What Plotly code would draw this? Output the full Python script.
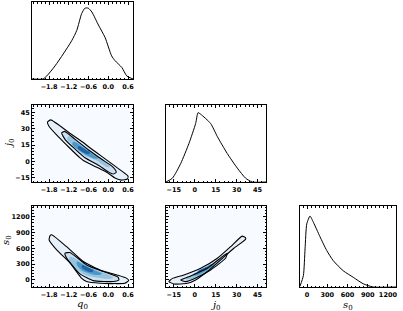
import plotly.graph_objects as go

# ---------------- data ----------------
q_range = [-2.32, 0.75]
j_range_x = [-20.5, 51.0]
j_range_y = [-18.75, 51.6]
s_range_x = [-105, 1320]
s_range_y = [-133, 1400]

q_ticks = [-1.8, -1.2, -0.6, 0.0, 0.6]
q_ticklabels = ["\u22121.8", "\u22121.2", "\u22120.6", "0.0", "0.6"]
j_ticks = [-15, 0, 15, 30, 45]
j_ticklabels = ["\u221215", "0", "15", "30", "45"]
s_ticks = [0, 300, 600, 900, 1200]
s_ticklabels = ["0", "300", "600", "900", "1200"]

# marginal of q0
hist_q_x = [-2.32, -1.99, -1.87, -1.62, -1.37, -1.11, -0.96, -0.81, -0.71, -0.61, -0.50, -0.30, -0.10, 0.10, 0.20, 0.41, 0.56, 0.75]
hist_q_y = [0.0, 0.0, 0.04, 0.17, 0.325, 0.50, 0.63, 0.85, 0.92, 0.92, 0.87, 0.70, 0.54, 0.30, 0.24, 0.15, 0.04, 0.0]
# marginal of j0
hist_j_x = [-20.5, -15.9, -10.0, -4.1, 0.7, 2.4, 4.3, 11.4, 16.2, 23.3, 30.5, 36.4, 41.2, 51.0]
hist_j_y = [0.0, 0.05, 0.24, 0.50, 0.76, 0.90, 0.88, 0.76, 0.59, 0.37, 0.18, 0.05, 0.0, 0.0]
# marginal of s0
hist_s_x = [-105, -55, -30, -4, 44, 93, 192, 292, 389, 537, 685, 833, 981, 1320]
hist_s_y = [0.01, 0.14, 0.47, 0.78, 0.875, 0.80, 0.62, 0.45, 0.325, 0.20, 0.12, 0.04, 0.0, 0.0]

# 2D panel q0 - j0 : contours (95%, 68%) and shaded core levels
qj_out_q = [-1.85, -1.75, -1.2, -0.76, -0.6, 0.0, 0.5, 0.6, 0.58, 0.4, 0.2, 0.0, -0.3, -0.6, -0.76, -0.85, -1.2, -1.5, -1.8, -1.85]
qj_out_j = [36, 38, 26.5, 17.3, 13.4, 0.3, -10.8, -13.5, -16, -17, -15, -10.8, -6, -1.7, 0.9, 3, 13, 22, 32, 36]
qj_in_q = [-1.42, -1.33, -1.0, -0.6, -0.2, 0.1, 0.22, 0.24, 0.15, 0.0, -0.3, -0.71, -1.0, -1.3, -1.42]
qj_in_j = [26, 27.5, 20, 10.5, 2, -4, -8, -10, -11.5, -9.5, -3.5, 3.4, 11, 19.5, 26]
qj_l2_q = [-1.2, -0.9, -0.5, -0.1, 0.05, -0.05, -0.4, -0.75, -1.05, -1.25, -1.2]
qj_l2_j = [23, 17.5, 9, 0, -5, -5, 1.5, 6, 14, 20, 23]
qj_l3_q = [-1.05, -0.75, -0.45, -0.3, -0.4, -0.65, -0.95, -1.1, -1.05]
qj_l3_j = [18, 12.5, 6, 3, 2.5, 5.5, 11.5, 15.5, 18]
qj_l4_q = [-0.9, -0.7, -0.55, -0.62, -0.8, -0.93, -0.9]
qj_l4_j = [14, 11, 8, 6.8, 9, 12, 14]

# 2D panel q0 - s0
qs_out_q = [-1.8, -1.77, -1.72, -1.27, -0.76, -0.25, 0.26, 0.56, 0.62, 0.5, 0.2, -0.25, -0.66, -0.81, -1.16, -1.57, -1.8]
qs_out_s = [760, 840, 855, 630, 350, 190, 95, 30, -10, -63, -68, -63, -30, 30, 320, 570, 760]
qs_in_q = [-1.32, -1.17, -0.66, -0.15, 0.3, 0.32, 0.15, -0.46, -0.86, -1.11, -1.29, -1.32]
qs_in_s = [505, 520, 285, 160, 50, 0, -30, -12, 115, 285, 440, 505]
qs_l2_q = [-1.15, -0.8, -0.4, 0.0, 0.15, 0.0, -0.4, -0.75, -1.0, -1.2, -1.15]
qs_l2_s = [440, 330, 200, 100, 40, 20, 50, 110, 230, 380, 440]
qs_l3_q = [-0.95, -0.7, -0.4, -0.2, -0.3, -0.55, -0.8, -0.95, -0.95]
qs_l3_s = [350, 270, 180, 120, 95, 120, 180, 280, 350]
qs_l4_q = [-0.8, -0.6, -0.45, -0.5, -0.65, -0.8, -0.8]
qs_l4_s = [280, 230, 180, 150, 170, 230, 280]

# 2D panel j0 - s0
js_out_j = [-18.4, -15.9, -7.6, 4.3, 16.2, 25.7, 34, 36.4, 36.4, 28, 18.6, 9, 0.7, -5.2, -14.8, -18.4]
js_out_s = [-30, 30, 95, 220, 410, 630, 830, 800, 770, 600, 380, 160, 0, -63, -76, -30]
js_in_j = [-10, -2.9, 9, 19.8, 23.3, 22.1, 11.4, 1.9, -6.4, -10]
js_in_s = [0, 76, 222, 443, 507, 412, 190, 51, -32, 0]
js_l2_j = [-6, 2, 10, 18, 20, 14, 6, -2, -6, -6]
js_l2_s = [40, 130, 250, 400, 420, 260, 120, 20, 20, 40]
js_l3_j = [-1, 5, 12, 14, 9, 2, -1, -1]
js_l3_s = [110, 190, 300, 290, 190, 90, 90, 110]
js_l4_j = [2, 6, 9, 9, 5, 2, 2]
js_l4_s = [160, 220, 250, 220, 160, 140, 160]

# ---------------- figure ----------------
W, H = 403, 311
BG2D = "#f7fbff"
C_OUT = "#e6f0fa"
C_IN = "#cbdff1"
C_L2 = "#94c4df"
C_L3 = "#4a98c9"
C_L4 = "#1f63a8"

fig = go.Figure()


def px_dom(a, b, total):
    return [a / total, b / total]


def py_dom(top, bottom):
    return [1 - bottom / H, 1 - top / H]


cols = [px_dom(32, 133, W), px_dom(166, 266, W), px_dom(300, 396, W)]
rows = [py_dom(2, 79), py_dom(105, 182), py_dom(206, 287)]

tickfont = dict(family="DejaVu Sans", size=6.5, color="black", weight="bold")


def xax(dom, rng, tv, tt, anchor, minor_dt):
    return dict(domain=dom, range=rng, anchor=anchor, tickvals=tv, ticktext=tt,
                automargin=False,
                showline=True, linecolor="black", linewidth=1, mirror="allticks",
                ticks="inside", ticklen=3, tickwidth=1, tickcolor="black",
                showgrid=False, zeroline=False, tickfont=tickfont, ticklabelstandoff=1,
                minor=dict(dtick=minor_dt, tick0=0, ticks="inside", ticklen=1.5,
                           tickcolor="black", showgrid=False))


def yax(dom, rng, tv, tt, anchor, minor_dt, labels=True):
    if tv is None:
        return dict(domain=dom, range=rng, anchor=anchor, showline=True, linecolor="black",
                    automargin=False,
                    linewidth=1, mirror=True, ticks="", showticklabels=False,
                    showgrid=False, zeroline=False)
    return dict(domain=dom, range=rng, anchor=anchor, tickvals=tv, ticktext=tt,
                automargin=False,
                showline=True, linecolor="black", linewidth=1, mirror="allticks",
                ticks="inside", ticklen=3, tickwidth=1, tickcolor="black",
                showgrid=False, zeroline=False, tickfont=tickfont, showticklabels=labels,
                minor=dict(dtick=minor_dt, tick0=0, ticks="inside", ticklen=1.5,
                           tickcolor="black", showgrid=False))


layout = dict(template="none", width=W, height=H, margin=dict(l=0, r=0, t=0, b=0, pad=0),
              paper_bgcolor="white", plot_bgcolor="white", showlegend=False)

layout["xaxis"] = xax(cols[0], q_range, q_ticks, q_ticklabels, "y", 0.12)
layout["yaxis"] = yax(rows[0], [0, 1], None, None, "x", None)
layout["xaxis2"] = xax(cols[0], q_range, q_ticks, q_ticklabels, "y2", 0.12)
layout["yaxis2"] = yax(rows[1], j_range_y, j_ticks, j_ticklabels, "x2", 3)
layout["xaxis3"] = xax(cols[1], j_range_x, j_ticks, j_ticklabels, "y3", 3)
layout["yaxis3"] = yax(rows[1], [0, 1], None, None, "x3", None)
layout["xaxis4"] = xax(cols[0], q_range, q_ticks, q_ticklabels, "y4", 0.12)
layout["yaxis4"] = yax(rows[2], s_range_y, s_ticks, s_ticklabels, "x4", 60)
layout["xaxis5"] = xax(cols[1], j_range_x, j_ticks, j_ticklabels, "y5", 3)
layout["yaxis5"] = yax(rows[2], s_range_y, s_ticks, s_ticklabels, "x5", 60, labels=False)
layout["xaxis6"] = xax(cols[2], s_range_x, s_ticks, s_ticklabels, "y6", 60)
layout["yaxis6"] = yax(rows[2], [0, 1], None, None, "x6", None)
fig.update_layout(**layout)

shapes = []
for xr, yr in [("x2", "y2"), ("x4", "y4"), ("x5", "y5")]:
    shapes.append(dict(type="rect", xref=xr + " domain", yref=yr + " domain", x0=0, x1=1, y0=0, y1=1,
                       fillcolor=BG2D, line=dict(width=0), layer="below"))
fig.update_layout(shapes=shapes)

line_k = dict(color="black", width=1.1)

for hx, hy, xa, ya in [(hist_q_x, hist_q_y, "x", "y"), (hist_j_x, hist_j_y, "x3", "y3"),
                       (hist_s_x, hist_s_y, "x6", "y6")]:
    fig.add_trace(go.Scatter(x=hx, y=hy, mode="lines",
                             line=dict(color="black", width=1, shape="spline", smoothing=0.6),
                             xaxis=xa, yaxis=ya))


def add_panel(xa, ya, out_x, out_y, in_x, in_y, levels):
    fig.add_trace(go.Scatter(x=out_x, y=out_y, mode="lines", fill="toself", fillcolor=C_OUT,
                             line=dict(width=0, shape="spline"), xaxis=xa, yaxis=ya, hoverinfo="skip"))
    fig.add_trace(go.Scatter(x=in_x, y=in_y, mode="lines", fill="toself", fillcolor=C_IN,
                             line=dict(width=0, shape="spline"), xaxis=xa, yaxis=ya, hoverinfo="skip"))
    for (lx, ly), col in zip(levels, [C_L2, C_L3, C_L4]):
        fig.add_trace(go.Scatter(x=lx, y=ly, mode="lines", fill="toself", fillcolor=col,
                                 line=dict(width=0, shape="spline"), xaxis=xa, yaxis=ya, hoverinfo="skip"))
    fig.add_trace(go.Scatter(x=out_x, y=out_y, mode="lines", line=dict(line_k, shape="spline", smoothing=0.5), xaxis=xa, yaxis=ya))
    fig.add_trace(go.Scatter(x=in_x, y=in_y, mode="lines", line=dict(line_k, shape="spline", smoothing=0.5), xaxis=xa, yaxis=ya))


add_panel("x2", "y2", qj_out_q, qj_out_j, qj_in_q, qj_in_j,
          [(qj_l2_q, qj_l2_j), (qj_l3_q, qj_l3_j), (qj_l4_q, qj_l4_j)])
add_panel("x4", "y4", qs_out_q, qs_out_s, qs_in_q, qs_in_s,
          [(qs_l2_q, qs_l2_s), (qs_l3_q, qs_l3_s), (qs_l4_q, qs_l4_s)])
add_panel("x5", "y5", js_out_j, js_out_s, js_in_j, js_in_s,
          [(js_l2_j, js_l2_s), (js_l3_j, js_l3_s), (js_l4_j, js_l4_s)])

tfont = dict(family="DejaVu Serif", size=10, color="black")
ann = [
    dict(text="<i>q</i><sub>0</sub>", x=82.5 / W, y=1 - 304.5 / H),
    dict(text="<i>j</i><sub>0</sub>", x=216 / W, y=1 - 305 / H),
    dict(text="<i>s</i><sub>0</sub>", x=348 / W, y=1 - 305 / H),
    dict(text="<i>j</i><sub>0</sub>", x=9 / W, y=1 - 143 / H, textangle=-90),
    dict(text="<i>s</i><sub>0</sub>", x=7 / W, y=1 - 240 / H, textangle=-90),
]
for a in ann:
    a.update(xref="paper", yref="paper", showarrow=False, font=tfont, xanchor="center", yanchor="middle")
fig.update_layout(annotations=ann)

fig.write_html("out.html", config={"displayModeBar": False},
               post_script="document.body.style.margin='0';document.body.style.overflow='hidden';")
